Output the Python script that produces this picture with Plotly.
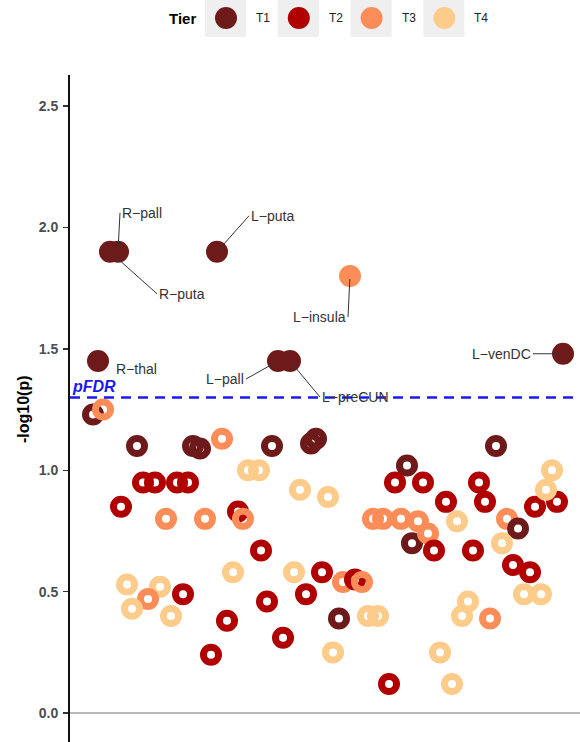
import plotly.graph_objects as go

# ---------------- data ----------------
tiers = ["T1", "T2", "T3", "T4"]
tier_colors = ["#6E1A1A", "#B00000", "#FC8D59", "#FDCB8A"]
pfdr_threshold = 1.30

# significant regions (above pFDR), labelled
sig_label = ["R−puta", "R−pall", "L−puta", "L−insula", "R−thal", "L−pall", "L−preCUN", "L−venDC"]
sig_region = [40, 48, 147, 280, 28, 208, 220, 493]
sig_logp = [1.90, 1.90, 1.90, 1.80, 1.45, 1.45, 1.45, 1.48]
sig_tier = ["T1", "T1", "T1", "T3", "T1", "T1", "T1", "T1"]

# non-significant regions
ns_region = [23, 33, 67, 123, 130, 152, 202, 241, 246, 178, 189,
             73, 85, 107, 118, 51, 96, 135, 168, 173, 230, 258,
             191, 163, 224, 252, 57, 90, 78, 62, 101, 113, 197,
             236, 157, 213, 141, 426, 337, 325, 353, 409, 376, 415,
             465, 487, 482, 476, 303, 313, 331, 348, 342, 358, 364,
             387, 403, 437, 448, 432, 443, 460, 454, 471, 273, 285,
             292, 298, 308, 269, 263, 319, 370, 382, 398, 392, 420]
ns_logp = [1.23, 1.25, 1.10, 1.10, 1.09, 1.13, 1.10, 1.11, 1.13, 1.00, 1.00,
           0.95, 0.95, 0.95, 0.95, 0.85, 0.80, 0.80, 0.83, 0.80, 0.92, 0.89,
           0.67, 0.58, 0.58, 0.58, 0.53, 0.52, 0.47, 0.43, 0.40, 0.49, 0.46,
           0.49, 0.38, 0.31, 0.24, 1.10, 1.02, 0.95, 0.95, 0.95, 0.87, 0.87,
           0.85, 0.87, 1.00, 0.92, 0.80, 0.80, 0.80, 0.79, 0.70, 0.74, 0.67,
           0.79, 0.67, 0.80, 0.76, 0.70, 0.61, 0.58, 0.49, 0.49, 0.54, 0.55,
           0.54, 0.40, 0.40, 0.39, 0.25, 0.12, 0.25, 0.12, 0.46, 0.40, 0.39]
ns_tier = ["T1", "T3", "T1", "T1", "T1", "T3", "T1", "T1", "T1", "T4", "T4",
           "T2", "T2", "T2", "T2", "T2", "T3", "T3", "T2", "T3", "T4", "T4",
           "T2", "T4", "T4", "T2", "T4", "T4", "T3", "T4", "T4", "T2", "T2",
           "T2", "T2", "T2", "T2", "T1", "T1", "T2", "T2", "T2", "T2", "T2",
           "T2", "T2", "T4", "T4", "T3", "T3", "T3", "T3", "T1", "T3", "T2",
           "T4", "T2", "T3", "T1", "T4", "T2", "T2", "T4", "T4", "T3", "T2",
           "T3", "T4", "T4", "T1", "T4", "T2", "T4", "T4", "T4", "T4", "T3"]

ytick_vals = [0.0, 0.5, 1.0, 1.5, 2.0, 2.5]
ytick_text = ["0.0", "0.5", "1.0", "1.5", "2.0", "2.5"]

# ---------------- layout constants ----------------
W, H = 580, 742
ML, MR, MT, MB = 70, 0, 75, 0
PW, PH = W - ML - MR, H - MT - MB
FONT = "Liberation Sans, Arial, Helvetica, sans-serif"
cmap = dict(zip(tiers, tier_colors))


def px_x(px):
    """page pixel x -> paper x"""
    return (px - ML) / PW


def px_y(py):
    """page pixel y -> paper y"""
    return (H - MB - py) / PH


fig = go.Figure()

fig.add_trace(go.Scatter(
    x=ns_region, y=ns_logp, mode="markers",
    marker=dict(symbol="circle-open", size=15,
                color=[cmap[t] for t in ns_tier], line=dict(width=7)),
    showlegend=False, hoverinfo="skip"))

fig.add_trace(go.Scatter(
    x=sig_region, y=sig_logp, mode="markers",
    marker=dict(symbol="circle", size=22,
                color=[cmap[t] for t in sig_tier], line=dict(width=0)),
    showlegend=False, hoverinfo="skip"))

# label offsets (px): (ax, ay, xanchor); None => no segment
label_style = {
    "R−puta": (47, 42, "left"),
    "R−pall": (2, -39, "left"),
    "L−puta": (32, -36, "left"),
    "L−insula": (-2, 41, "right"),
    "R−thal": None,
    "L−pall": (-32, 18, "right"),
    "L−preCUN": (30, 36, "left"),
    "L−venDC": (-30, 0, "right"),
}

annotations = []
for lab, xv, yv in zip(sig_label, sig_region, sig_logp):
    st = label_style[lab]
    if st is None:
        annotations.append(dict(x=xv, y=yv, xref="x", yref="y", text=lab,
                                showarrow=False, xanchor="left", yanchor="middle",
                                xshift=16, yshift=-8,
                                font=dict(family=FONT, size=14, color="#333333")))
    else:
        ax, ay, xa = st
        annotations.append(dict(x=xv, y=yv, xref="x", yref="y", text=lab,
                                showarrow=True, arrowhead=0, arrowwidth=1,
                                arrowcolor="#333333", standoff=3,
                                ax=ax, ay=ay, xanchor=xa, yanchor="middle",
                                font=dict(family=FONT, size=14, color="#333333")))

# pFDR text
annotations.append(dict(x=0, y=pfdr_threshold, xref="paper", yref="y",
                        text="<b><i>pFDR</i></b>", showarrow=False,
                        xanchor="left", yanchor="bottom", yshift=0,
                        font=dict(family=FONT, size=16, color="#1A1AF0")))

# y title
annotations.append(dict(x=px_x(23), y=px_y(409), xref="paper", yref="paper",
                        text="<b>-log10(p)</b>", showarrow=False, textangle=-90,
                        xanchor="center", yanchor="middle",
                        font=dict(family=FONT, size=16, color="#000000")))

shapes = [dict(type="line", xref="paper", yref="y", x0=0, x1=1,
               y0=pfdr_threshold, y1=pfdr_threshold,
               line=dict(color="#1A1AF0", width=2.5, dash="10px,7px"))]

# legend (manual, ggplot-like with grey key backgrounds)
annotations.append(dict(x=px_x(182), y=px_y(18), xref="paper", yref="paper",
                        text="<b>Tier</b>", showarrow=False,
                        xanchor="center", yanchor="middle",
                        font=dict(family=FONT, size=15, color="#000000")))
leg_x0, leg_pitch = 226, 72.8
for i, (t, c) in enumerate(zip(tiers, tier_colors)):
    cx = leg_x0 + i * leg_pitch
    shapes.append(dict(type="rect", xref="paper", yref="paper",
                       x0=px_x(cx - 21), x1=px_x(cx + 20),
                       y0=px_y(37), y1=px_y(0),
                       fillcolor="#EFEFEF", line=dict(width=0), layer="below"))
    shapes.append(dict(type="circle", xref="paper", yref="paper",
                       x0=px_x(cx - 11), x1=px_x(cx + 11),
                       y0=px_y(29), y1=px_y(7),
                       fillcolor=c, line=dict(width=0)))
    annotations.append(dict(x=px_x(cx + 37), y=px_y(18), xref="paper", yref="paper",
                            text=t, showarrow=False, xanchor="center", yanchor="middle",
                            font=dict(family=FONT, size=12, color="#222222")))

fig.update_layout(
    width=W, height=H,
    margin=dict(l=ML, r=MR, t=MT, b=MB, pad=0),
    paper_bgcolor="white", plot_bgcolor="white",
    showlegend=False,
    xaxis=dict(range=[0, PW], visible=False, showgrid=False, zeroline=False),
    yaxis=dict(range=[-0.119, 2.628], tickvals=ytick_vals, ticktext=ytick_text,
               showgrid=False, zeroline=True, zerolinecolor="#B8B8B8", zerolinewidth=1.5,
               showline=True, linecolor="#111111", linewidth=2,
               ticks="outside", ticklen=5, tickwidth=1.5, tickcolor="#333333",
               tickfont=dict(family=FONT, size=14, color="#4D4D4D", weight="bold"),
               ticklabelstandoff=2),
    annotations=annotations,
    shapes=shapes,
)

fig.write_html(
    "out.html",
    config={"displayModeBar": False, "staticPlot": True},
    post_script="document.body.style.margin='0';document.body.style.overflow='hidden';",
)
